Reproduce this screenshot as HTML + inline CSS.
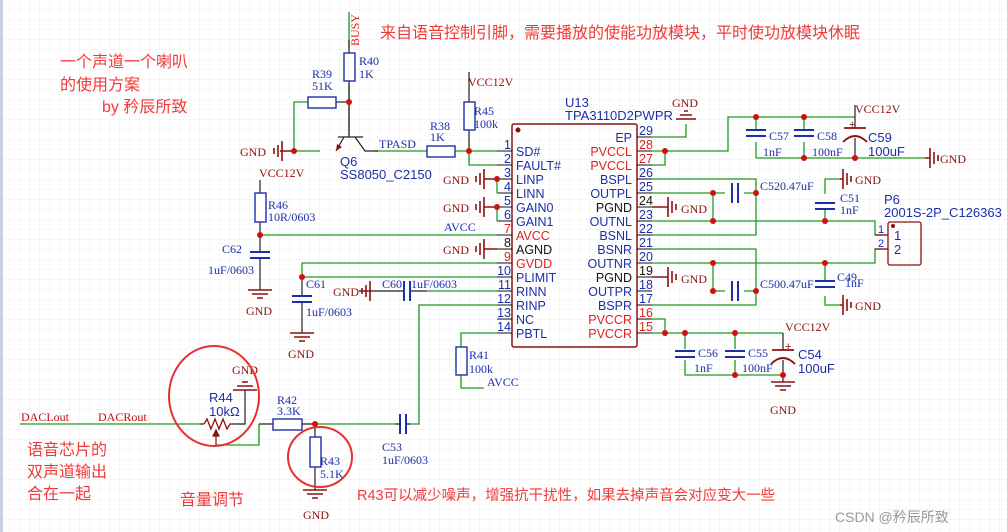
<!DOCTYPE html>
<html><head><meta charset="utf-8"><style>
html,body{margin:0;padding:0;background:#fff;}
svg{display:block;}
.s{font-family:"Liberation Serif","Noto Serif CJK SC",serif;font-size:12px;}
.a{font-family:"Liberation Sans","Noto Sans CJK SC",sans-serif;}
.b{fill:#1c2fa8}.r{fill:#8b1010}.k{fill:#111}.rd{fill:#e02020}
</style></head><body>
<svg width="1007" height="532" viewBox="0 0 1007 532" xmlns="http://www.w3.org/2000/svg">
<defs>
<pattern id="g" width="10" height="10" patternUnits="userSpaceOnUse"><path d="M10 0V10H0" fill="none" stroke="#ececf0" stroke-width="1"/></pattern>
</defs>
<rect width="1007" height="532" fill="#fff"/>
<rect width="1007" height="532" fill="url(#g)"/>
<rect x="0" y="0" width="3" height="532" fill="#c8d0e0"/>

<!-- IC -->
<rect x="512" y="124" width="125" height="223" rx="2" fill="none" stroke="#8b1010" stroke-width="1.5"/>
<circle cx="518" cy="130" r="2.5" fill="#8b1010"/>
<text x="565" y="107" class="a b" font-size="13">U13</text>
<text x="565" y="120" class="a b" font-size="13">TPA3110D2PWPR</text>
<g stroke="#111" stroke-width="1">
<path d="M497 151H512M497 165H512M497 179H512M497 193H512M497 207H512M497 221H512M497 235H512M497 249H512M497 263H512M497 277H512M497 291H512M497 305H512M497 319H512M497 333H512"/>
<path d="M637 137H652M637 151H652M637 165H652M637 179H652M637 193H652M637 207H652M637 221H652M637 235H652M637 249H652M637 263H652M637 277H652M637 291H652M637 305H652M637 319H652M637 333H652"/>
</g>
<g class="a" font-size="12.5">
<g class="b" text-anchor="end">
<text x="511" y="149">1</text><text x="511" y="163">2</text><text x="511" y="177">3</text><text x="511" y="191">4</text><text x="511" y="205">5</text><text x="511" y="219">6</text><text x="511" y="233" class="rd">7</text><text x="511" y="247" class="k">8</text><text x="511" y="261" class="rd">9</text><text x="511" y="275">10</text><text x="511" y="289">11</text><text x="511" y="303">12</text><text x="511" y="317">13</text><text x="511" y="331">14</text>
</g>
<g class="b">
<text x="516" y="156">SD#</text><text x="516" y="170">FAULT#</text><text x="516" y="184">LINP</text><text x="516" y="198">LINN</text><text x="516" y="212">GAIN0</text><text x="516" y="226">GAIN1</text><text x="516" y="240" class="rd">AVCC</text><text x="516" y="254" class="k">AGND</text><text x="516" y="268" class="rd">GVDD</text><text x="516" y="282">PLIMIT</text><text x="516" y="296">RINN</text><text x="516" y="310">RINP</text><text x="516" y="324">NC</text><text x="516" y="338">PBTL</text>
</g>
<g class="b" text-anchor="end">
<text x="632" y="142">EP</text><text x="632" y="156" class="rd">PVCCL</text><text x="632" y="170" class="rd">PVCCL</text><text x="632" y="184">BSPL</text><text x="632" y="198">OUTPL</text><text x="632" y="212" class="k">PGND</text><text x="632" y="226">OUTNL</text><text x="632" y="240">BSNL</text><text x="632" y="254">BSNR</text><text x="632" y="268">OUTNR</text><text x="632" y="282" class="k">PGND</text><text x="632" y="296">OUTPR</text><text x="632" y="310">BSPR</text><text x="632" y="324" class="rd">PVCCR</text><text x="632" y="338" class="rd">PVCCR</text>
</g>
<g class="b">
<text x="639" y="135">29</text><text x="639" y="149" class="rd">28</text><text x="639" y="163" class="rd">27</text><text x="639" y="177">26</text><text x="639" y="191">25</text><text x="639" y="205" class="k">24</text><text x="639" y="219">23</text><text x="639" y="233">22</text><text x="639" y="247">21</text><text x="639" y="261">20</text><text x="639" y="275" class="k">19</text><text x="639" y="289">18</text><text x="639" y="303">17</text><text x="639" y="317" class="rd">16</text><text x="639" y="331" class="rd">15</text>
</g>
</g>

<!-- green wires -->
<g stroke="#1e9a1e" stroke-width="1.3" fill="none">
<path d="M349 12V48"/>
<path d="M349 85V135"/>
<path d="M294 151V102H308"/>
<path d="M294 151H320"/>
<path d="M375 151H427"/>
<path d="M455 151H497M469 151V165H497"/>
<path d="M497 179V193M497 207V221"/>
<path d="M260 235H497"/>
<path d="M497 263H302V277H497"/>
<path d="M427 291H497"/>
<path d="M497 305H419V424H406"/>
<path d="M497 333H461V347"/>
<path d="M461 375V388H484"/>
<path d="M20 424H200"/>
<path d="M216 445H259V424"/>
<path d="M315 424H395"/>
<path d="M652 137H686V124"/>
<path d="M652 151H728V117H855M652 165H665V151"/>
<path d="M756 158H925"/>
<path d="M652 179H756V235H652"/>
<path d="M652 193H713V221M713 193H725M744 193H756"/>
<path d="M652 221H875V235H888"/>
<path d="M652 249H756V305H652"/>
<path d="M652 263H875V249H888"/>
<path d="M713 263V291H725M744 291H756"/>
<path d="M825 221V210M825 194V179H840"/>
<path d="M825 263V280M825 296V305H840"/>
<path d="M652 319H665V333M652 333H783"/>
<path d="M685 333V349M685 360V375H783M735 333V349M735 360V375"/>
<path d="M756 117V130M756 142V158M804 117V130M804 142V158"/>
</g>

<!-- dark component leads -->
<g stroke="#222" stroke-width="1.2" fill="none">
<path d="M349 40V53M349 81V102"/>
<path d="M336 102H349"/>
<path d="M338 137H363M349 102V137"/>
<path d="M344 137L336 151M355 137L365 151H378"/>
<path d="M469 72V102M469 130V151"/>
<path d="M260 180V193M260 222V235"/>
<path d="M260 235V251M260 258V290"/>
<path d="M302 277V295M302 302V333"/>
<path d="M372 291H404M410 291H427"/>
<path d="M395 424H400M406 424H410"/>
<path d="M200 424H204M232 424H245V390"/>
<path d="M259 424H273M302 424H315"/>
<path d="M315 424V437M315 467V490"/>
<path d="M783 333V350M783 360V382"/>
<path d="M855 105V128M855 138V158"/>
</g>

<!-- resistors -->
<g fill="#fff" stroke="#1c2fa8" stroke-width="1.4">
<rect x="344" y="53" width="11" height="28"/>
<rect x="308" y="97" width="28" height="11"/>
<rect x="427" y="146" width="28" height="11"/>
<rect x="464" y="102" width="11" height="28"/>
<rect x="255" y="193" width="11" height="29"/>
<rect x="456" y="347" width="11" height="28"/>
<rect x="273" y="419" width="29" height="11"/>
<rect x="310" y="437" width="11" height="30"/>
</g>
<!-- caps -->
<g stroke="#1c2fa8" stroke-width="2" fill="none">
<path d="M250 252H270M250 258H270"/>
<path d="M292 296H312M292 302H312"/>
<path d="M404 281V301M410 281V301"/>
<path d="M400 414V434M406 414V434"/>
<path d="M746 130H766M746 136H766M794 130H814M794 136H814"/>
<path d="M732 183V203M738 183V203M732 281V301M738 281V301"/>
<path d="M815 203H835M815 209H835M815 281H835M815 287H835"/>
<path d="M675 351H695M675 357H695M725 351H745M725 357H745"/>
</g>
<g stroke="#8b1010" stroke-width="1.8" fill="none">
<path d="M844 128H866"/><path d="M843 142Q855 130 867 142"/>
<path d="M772 350H794"/><path d="M771 364Q783 352 795 364"/>
</g>
<text x="849" y="128" class="a r" font-size="11">+</text>
<text x="785" y="350" class="a r" font-size="11">+</text>

<!-- transistor arrow -->
<path d="M336 151L337 144L342 147Z" fill="#8b1010"/>
<!-- pot -->
<path d="M204 424L207 419L211 429L215 419L219 429L223 419L227 429L230 424L232 424" stroke="#8b1010" stroke-width="1.3" fill="none"/>
<path d="M216 445V431M213 436L216 430L219 436Z" stroke="#8b1010" stroke-width="1.2" fill="#8b1010"/>

<!-- GND vertical-bar style -->
<g stroke="#8b1010" stroke-width="1.6" fill="none">
<path d="M280 151H294M282 141V161M278 145V157M274 148V154"/>
<path d="M484 179H497M484 169V189M480 173V185M476 176V182"/>
<path d="M484 207H497M484 197V217M480 201V213M476 204V210"/>
<path d="M484 249H497M484 239V259M480 243V255M476 246V252"/>
<path d="M359 291H372M370 281V301M366 285V297M362 288V294"/>
<path d="M652 207H668M668 197V217M672 201V213M676 204V210"/>
<path d="M652 277H668M668 267V287M672 271V283M676 274V280"/>
<path d="M925 158H930M930 148V168M934 152V164M938 155V161"/>
<path d="M840 179H843M843 169V189M847 173V185M851 176V182"/>
<path d="M840 305H843M843 295V315M847 299V311M851 302V308"/>
</g>
<!-- GND horizontal style -->
<g stroke="#8b1010" stroke-width="1.6" fill="none">
<path d="M676 119H696M680 115H692M684 111H688"/>
<path d="M248 290H272M252 294H268M257 298H263"/>
<path d="M290 333H314M294 337H310M299 341H305"/>
<path d="M233 390H257M237 386H253M242 382H248"/>
<path d="M303 490H327M307 494H323M312 498H318"/>
<path d="M771 382H795M775 386H791M780 390H786"/>
</g>
<g class="s r">
<text x="240" y="156">GND</text>
<text x="443" y="184">GND</text><text x="443" y="212">GND</text><text x="443" y="254">GND</text>
<text x="333" y="296">GND</text>
<text x="681" y="213">GND</text><text x="681" y="283">GND</text>
<text x="940" y="163">GND</text><text x="855" y="184">GND</text><text x="855" y="310">GND</text>
<text x="672" y="107">GND</text>
<text x="246" y="315">GND</text><text x="288" y="358">GND</text>
<text x="232" y="374">GND</text><text x="303" y="519">GND</text><text x="770" y="414">GND</text>
<text x="468" y="86">VCC12V</text><text x="259" y="177">VCC12V</text>
<text x="855" y="113">VCC12V</text><text x="785" y="331">VCC12V</text>
<text x="359" y="46" transform="rotate(-90 359 46)" fill="#e02020">BUSY</text>
</g>
<g class="s b">
<text x="359" y="65">R40</text><text x="359" y="78">1K</text>
<text x="312" y="78">R39</text><text x="312" y="90">51K</text>
<text x="430" y="130">R38</text><text x="430" y="141">1K</text>
<text x="474" y="115">R45</text><text x="474" y="128">100k</text>
<text x="379" y="148">TPASD</text>
<text x="268" y="209">R46</text><text x="268" y="221">10R/0603</text>
<text x="222" y="253">C62</text><text x="208" y="274">1uF/0603</text>
<text x="444" y="231">AVCC</text>
<text x="306" y="288">C61</text><text x="306" y="316">1uF/0603</text>
<text x="382" y="288">C60</text><text x="411" y="288">1uF/0603</text>
<text x="469" y="359">R41</text><text x="469" y="373">100k</text>
<text x="487" y="386">AVCC</text>
<text x="277" y="404">R42</text><text x="277" y="415">3.3K</text>
<text x="320" y="465">R43</text><text x="320" y="478">5.1K</text>
<text x="382" y="451">C53</text><text x="382" y="464">1uF/0603</text>
<text x="769" y="140">C57</text><text x="763" y="156">1nF</text>
<text x="817" y="140">C58</text><text x="812" y="156">100nF</text>
<text x="760" y="190">C520.47uF</text><text x="760" y="288">C500.47uF</text>
<text x="840" y="202">C51</text><text x="840" y="214">1nF</text>
<text x="837" y="281">C49</text><text x="845" y="287">1nF</text>
<text x="698" y="357">C56</text><text x="694" y="372">1nF</text>
<text x="748" y="357">C55</text><text x="742" y="372">100nF</text>
</g>
<g class="a b" font-size="13">
<text x="340" y="166">Q6</text><text x="340" y="179">SS8050_C2150</text>
<text x="868" y="142">C59</text><text x="868" y="156">100uF</text>
<text x="798" y="359">C54</text><text x="798" y="373">100uF</text>
<text x="884" y="204">P6</text><text x="884" y="217">2001S-2P_C126363</text>
<text x="209" y="402">R44</text><text x="209" y="416">10kΩ</text>
<text x="878" y="233" font-size="11">1</text><text x="878" y="247" font-size="11">2</text>
<text x="894" y="240">1</text><text x="894" y="254">2</text>
</g>
<rect x="888" y="222" width="33" height="43" rx="2" fill="none" stroke="#8b1010" stroke-width="1.3"/>
<circle cx="893" cy="226" r="2" fill="#8b1010"/>
<path d="M875 235H888M875 249H888" stroke="#8b1010" stroke-width="1.2"/>
<g class="s" fill="#c01010"><text x="21" y="421">DACLout</text><text x="98" y="421">DACRout</text></g>

<!-- dots -->
<g fill="#d01010">
<circle cx="349" cy="102" r="3"/><circle cx="294" cy="151" r="3"/><circle cx="469" cy="151" r="3"/>
<circle cx="497" cy="179" r="3"/><circle cx="497" cy="207" r="3"/><circle cx="260" cy="235" r="3"/>
<circle cx="302" cy="277" r="3"/><circle cx="315" cy="424" r="3"/>
<circle cx="665" cy="151" r="3"/><circle cx="756" cy="117" r="3"/><circle cx="804" cy="117" r="3"/>
<circle cx="804" cy="158" r="3"/><circle cx="855" cy="158" r="3"/>
<circle cx="713" cy="193" r="3"/><circle cx="756" cy="193" r="3"/><circle cx="713" cy="221" r="3"/><circle cx="825" cy="221" r="3"/>
<circle cx="713" cy="263" r="3"/><circle cx="825" cy="263" r="3"/><circle cx="713" cy="291" r="3"/><circle cx="756" cy="291" r="3"/>
<circle cx="665" cy="333" r="3"/><circle cx="685" cy="333" r="3"/><circle cx="735" cy="333" r="3"/>
<circle cx="735" cy="375" r="3"/><circle cx="783" cy="375" r="3"/>
</g>

<!-- ellipses -->
<ellipse cx="214" cy="396" rx="45" ry="50" fill="none" stroke="#e83030" stroke-width="2"/>
<ellipse cx="320" cy="457" rx="32" ry="30" fill="none" stroke="#e83030" stroke-width="2"/>

<!-- annotations -->
<g class="a" fill="#f03a3a" font-size="16">
<text x="380" y="38">来自语音控制引脚，需要播放的使能功放模块，平时使功放模块休眠</text>
<text x="60" y="67">一个声道一个喇叭</text>
<text x="60" y="90">的使用方案</text>
<text x="102" y="112">by 矜辰所致</text>
<text x="27" y="455">语音芯片的</text>
<text x="27" y="477">双声道输出</text>
<text x="27" y="499">合在一起</text>
<text x="180" y="505">音量调节</text>
<text x="357" y="500" font-size="14.5">R43可以减少噪声，增强抗干扰性，如果去掉声音会对应变大一些</text>
</g>
<text x="835" y="522" class="a" fill="#999" font-size="14">CSDN @矜辰所致</text>
</svg>
</body></html>
